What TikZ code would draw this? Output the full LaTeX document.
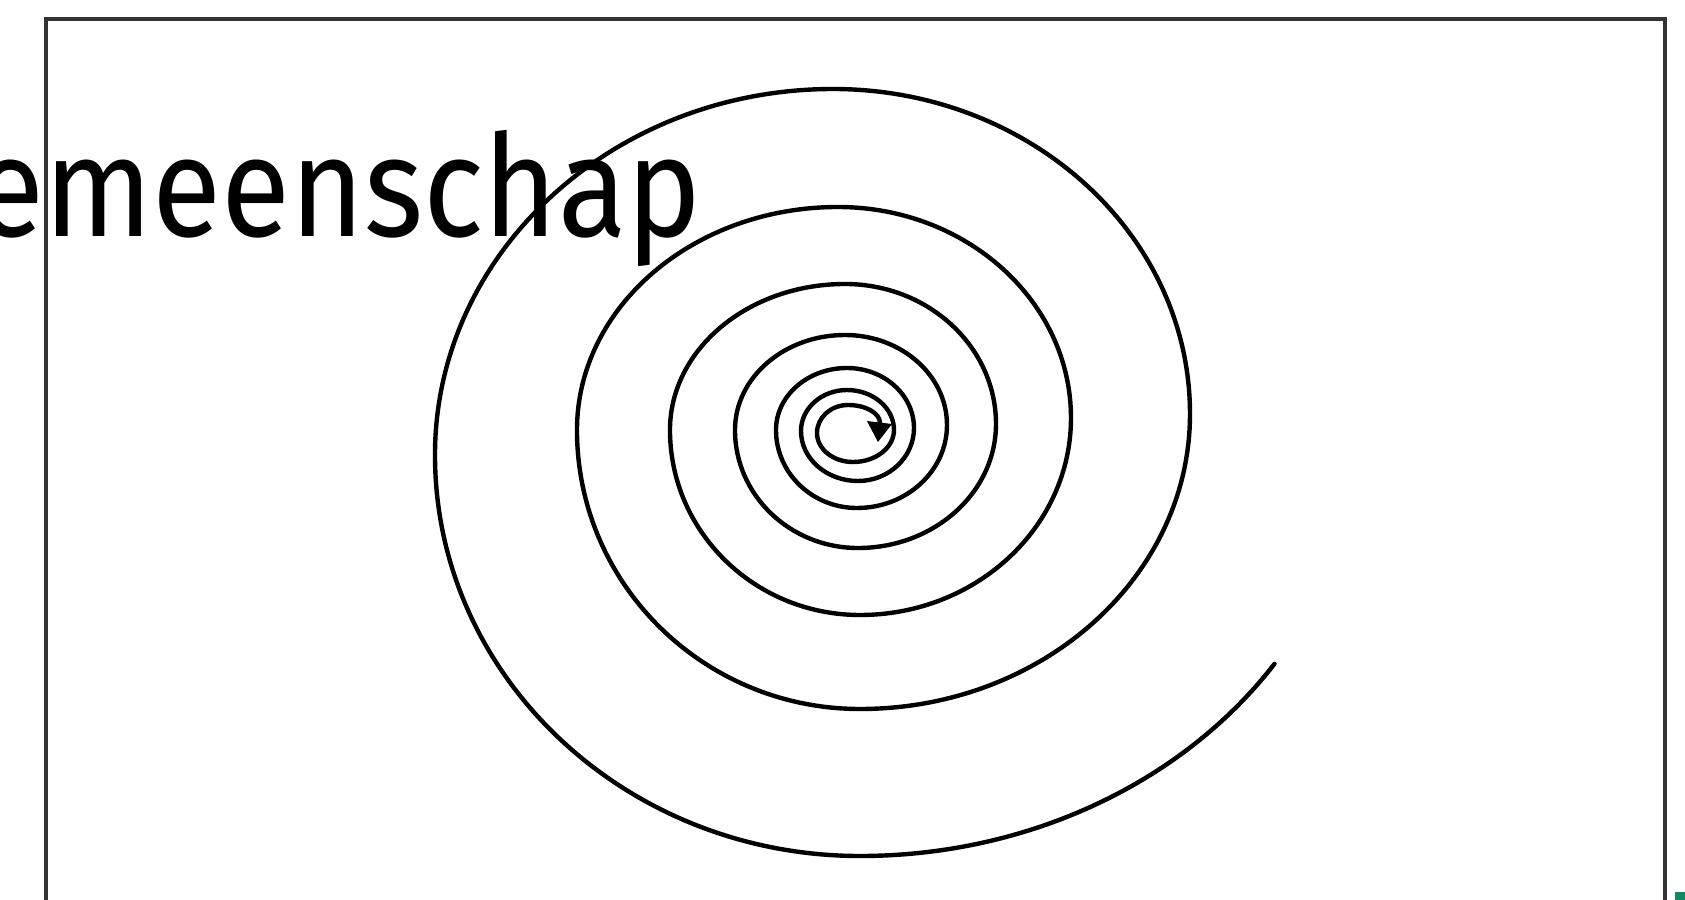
\documentclass[tikz,border=0pt]{standalone}
\usepackage{fontspec}
\newfontfamily\titlefont{Fira Sans}
\usetikzlibrary{arrows.meta,calc}
\definecolor{cornergreen}{RGB}{20,135,100}
\tikzset{
  frameline/.style={line width=4pt, draw=black!80},
  spiralline/.style={line width=4.4pt, draw=black, line cap=round},
  titletext/.style={anchor=base east, inner sep=0pt, xscale=0.89, font=\titlefont\fontsize{142}{142}\selectfont}
}
\begin{document}
\begin{tikzpicture}[x=1pt,y=-1pt]
\useasboundingbox (0,0) rectangle (1685,899);
\node[titletext] (title) at (702,236) {emeenschap};
\coordinate (fbl) at (46,910);
\coordinate (ftl) at (46,19);
\coordinate (ftr) at (1665,19);
\coordinate (fbr) at (1665,910);
\draw[frameline] (fbl) -- (ftl) -- (ftr) -- (fbr);
\coordinate (sstart) at (1274.5,663.8);
\draw[spiralline] (sstart)
  arc[start angle=34,end angle=90,x radius=500,y radius=436]
  arc[start angle=90,end angle=180,x radius=425,y radius=401]
  arc[start angle=180,end angle=270,x radius=398,y radius=366]
  arc[start angle=270,end angle=360,x radius=357,y radius=325]
  arc[start angle=0,end angle=90,x radius=330,y radius=295]
  arc[start angle=90,end angle=180,x radius=283,y radius=279]
  arc[start angle=180,end angle=270,x radius=261,y radius=223]
  arc[start angle=270,end angle=360,x radius=233,y radius=211]
  arc[start angle=0,end angle=90,x radius=211,y radius=197]
  arc[start angle=90,end angle=180,x radius=190,y radius=185]
  arc[start angle=180,end angle=270,x radius=175,y radius=146]
  arc[start angle=270,end angle=360,x radius=151,y radius=140]
  arc[start angle=0,end angle=90,x radius=138,y radius=124]
  arc[start angle=90,end angle=180,x radius=123,y radius=118]
  arc[start angle=180,end angle=270,x radius=110,y radius=95]
  arc[start angle=270,end angle=360,x radius=102,y radius=90]
  arc[start angle=0,end angle=90,x radius=90,y radius=83]
  arc[start angle=90,end angle=180,x radius=81,y radius=78]
  arc[start angle=180,end angle=270,x radius=71,y radius=62]
  arc[start angle=270,end angle=360,x radius=67,y radius=60]
  arc[start angle=0,end angle=90,x radius=56,y radius=53]
  arc[start angle=90,end angle=180,x radius=57,y radius=50]
  arc[start angle=180,end angle=270,x radius=46,y radius=41]
  arc[start angle=270,end angle=360,x radius=47,y radius=40]
  arc[start angle=0,end angle=90,x radius=41,y radius=32]
  arc[start angle=90,end angle=180,x radius=36,y radius=29]
  arc[start angle=180,end angle=270,x radius=31,y radius=28]
  arc[start angle=270,end angle=360,x radius=32,y radius=18]
  coordinate (send);
\coordinate (tipl) at ($(send)+(-13,-2)$);
\coordinate (tipr) at ($(send)+(12,1)$);
\coordinate (tipp) at ($(send)+(-2,19)$);
\fill[black] (tipl) -- (tipr) -- (tipp) -- cycle;
\fill[cornergreen] (1675,892) rectangle (1690,905);
\end{tikzpicture}
\end{document}
